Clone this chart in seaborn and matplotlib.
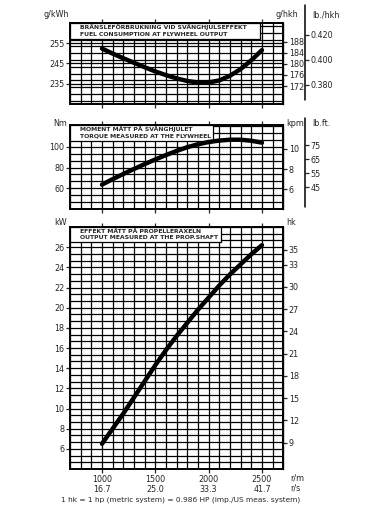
import numpy as np
import pandas as pd
import matplotlib
matplotlib.use("Agg")
import matplotlib.pyplot as plt
from matplotlib.ticker import MultipleLocator, FixedLocator
from matplotlib.patches import Rectangle
from matplotlib.lines import Line2D
import seaborn as sns

# engine speed (r/min)
rpm = [1000, 1100, 1200, 1300, 1400, 1500, 1600, 1700,
       1800, 1900, 2000, 2100, 2200, 2300, 2400, 2500]
# fuel consumption at flywheel output (g/kWh)
fuel = [252.3, 249.8, 247.5, 245.3, 243.1, 241.0, 239.2, 237.6,
        236.3, 235.6, 235.6, 236.6, 238.9, 242.2, 246.5, 251.5]
# torque measured at the flywheel (Nm)
torque = [63.5, 68.8, 73.8, 78.6, 83.3, 87.8, 92.0, 96.0,
          99.6, 102.4, 104.6, 106.0, 106.8, 106.8, 105.8, 104.0]
# output measured at the prop shaft (kW)
power = [6.5, 8.0, 9.5, 11.1, 12.7, 14.3, 15.8, 17.2,
         18.5, 19.8, 21.0, 22.2, 23.3, 24.3, 25.3, 26.2]

x_ticks = [1000, 1500, 2000, 2500]
x_ticklabels = ["1000\n16.7", "1500\n25.0", "2000\n33.3", "2500\n41.7"]

fuel_ticks = [235, 245, 255]
fuel_hkh_ticks = [172, 176, 180, 184, 188]
fuel_lb_ticks = [0.380, 0.400, 0.420]
torque_ticks = [60, 80, 100]
kpm_ticks = [6, 8, 10]
lbft_ticks = [45, 55, 65, 75]
power_ticks = [6, 8, 10, 12, 14, 16, 18, 20, 22, 24, 26]
hk_ticks = [9, 12, 15, 18, 21, 24, 27, 30, 33, 35]

df = pd.DataFrame({"rpm": rpm, "fuel": fuel, "torque": torque, "power": power})

sns.set_style("white")
plt.rcParams["font.family"] = ["DejaVu Sans"]
plt.rcParams["font.size"] = 5.8

fig = plt.figure(figsize=(3.71, 5.15), dpi=100)
W, H = 371.0, 515.0

def make_axes(top_px, bot_px):
    return fig.add_axes([70 / W, 1 - bot_px / H, 213.3 / W, (bot_px - top_px) / H])

ax1 = make_axes(22.7, 104)
ax2 = make_axes(125, 209)
ax3 = make_axes(227, 469)

def style(ax, ylim, ystep, yticks):
    ax.set_xlim(700, 2700)
    ax.set_ylim(*ylim)
    ax.xaxis.set_minor_locator(MultipleLocator(100))
    ax.yaxis.set_minor_locator(MultipleLocator(ystep))
    ax.set_xticks(x_ticks)
    ax.set_yticks(yticks)
    ax.grid(which="both", color="black", lw=0.9)
    ax.set_axisbelow(True)
    ax.tick_params(which="minor", length=0)
    ax.tick_params(which="major", direction="out", length=3, width=0.9,
                   top=True, bottom=True, left=True, right=False, pad=1,
                   labelsize=5.8)
    ax.set_xticklabels([])
    for s in ax.spines.values():
        s.set_linewidth(1.4)
        s.set_color("black")

def title_box(ax, right, bottom, line1, line2):
    ax.add_patch(Rectangle((0, bottom), right, 1 - bottom, transform=ax.transAxes,
                           facecolor="white", edgecolor="black", lw=0.9, zorder=2))
    ax.text(0.045, 1 - (1 - bottom) * 0.28, line1, transform=ax.transAxes,
            fontsize=4.4, fontweight="bold", va="center", ha="left", zorder=3)
    ax.text(0.045, 1 - (1 - bottom) * 0.72, line2, transform=ax.transAxes,
            fontsize=4.4, fontweight="bold", va="center", ha="left", zorder=3)

# --- fuel consumption
style(ax1, (225, 265), 10 / 3, fuel_ticks)
title_box(ax1, 0.89, 0.80, "BRÄNSLEFÖRBRUKNING VID SVÄNGHJULSEFFEKT",
          "FUEL CONSUMPTION AT FLYWHEEL OUTPUT")
sns.lineplot(data=df, x="rpm", y="fuel", ax=ax1, color="black", lw=3.2, zorder=4)
ax1.set_xlabel(""); ax1.set_ylabel("")
s1 = ax1.secondary_yaxis("right", functions=(lambda v: v * 0.7355, lambda v: v / 0.7355))
s1.yaxis.set_major_locator(FixedLocator(fuel_hkh_ticks))
s2 = ax1.secondary_yaxis(1.10, functions=(lambda v: v * 0.7355 / 453.6,
                                          lambda v: v * 453.6 / 0.7355))
s2.yaxis.set_major_locator(FixedLocator(fuel_lb_ticks))
s2.yaxis.set_major_formatter(plt.FormatStrFormatter("%.3f"))

# --- torque
style(ax2, (40, 121), 20 / 3, torque_ticks)
title_box(ax2, 0.67, 0.81, "MOMENT MÄTT PÅ SVÄNGHJULET",
          "TORQUE MEASURED AT THE FLYWHEEL")
sns.lineplot(data=df, x="rpm", y="torque", ax=ax2, color="black", lw=3.2, zorder=4)
ax2.set_xlabel(""); ax2.set_ylabel("")
s3 = ax2.secondary_yaxis("right", functions=(lambda v: v / 9.80665, lambda v: v * 9.80665))
s3.yaxis.set_major_locator(FixedLocator(kpm_ticks))
s4 = ax2.secondary_yaxis(1.10, functions=(lambda v: v / 1.3558, lambda v: v * 1.3558))
s4.yaxis.set_major_locator(FixedLocator(lbft_ticks))

# --- power
style(ax3, (4, 28), 2 / 3, power_ticks)
title_box(ax3, 0.71, 0.94, "EFFEKT MÄTT PÅ PROPELLERAXELN",
          "OUTPUT MEASURED AT THE PROP.SHAFT")
sns.lineplot(data=df, x="rpm", y="power", ax=ax3, color="black", lw=3.2, zorder=4)
ax3.set_xlabel(""); ax3.set_ylabel("")
ax3.set_xticklabels(x_ticklabels)
s5 = ax3.secondary_yaxis("right", functions=(lambda v: v * 1.3596, lambda v: v / 1.3596))
s5.yaxis.set_major_locator(FixedLocator(hk_ticks))

for s in [s1, s2, s3, s4, s5]:
    s.tick_params(direction="out", length=3, width=0.9, pad=1, labelsize=5.8)
    for sp in s.spines.values():
        sp.set_linewidth(1.0)
for s in [s2, s4]:
    s.spines["right"].set_visible(False)

# separate axis lines for lb scales (extend above the panels)
ax1.add_line(Line2D([1.10, 1.10], [0.05, 1.22], transform=ax1.transAxes,
                    color="black", lw=1.1, clip_on=False))
ax2.add_line(Line2D([1.10, 1.10], [0.02, 1.08], transform=ax2.transAxes,
                    color="black", lw=1.1, clip_on=False))

# unit labels
fs = 5.8
fig.text(69 / W, 1 - 19 / H, "g/kWh", ha="right", va="bottom", fontsize=fs)
fig.text(298 / W, 1 - 19 / H, "g/hkh", ha="right", va="bottom", fontsize=fs)
fig.text(312 / W, 1 - 19 / H, "lb./hkh", ha="left", va="bottom", fontsize=fs)
fig.text(67 / W, 1 - 128 / H, "Nm", ha="right", va="bottom", fontsize=fs)
fig.text(286 / W, 1 - 128 / H, "kpm", ha="left", va="bottom", fontsize=fs)
fig.text(312 / W, 1 - 128 / H, "lb.ft.", ha="left", va="bottom", fontsize=fs)
fig.text(67 / W, 1 - 227 / H, "kW", ha="right", va="bottom", fontsize=fs)
fig.text(286 / W, 1 - 227 / H, "hk", ha="left", va="bottom", fontsize=fs)
fig.text(290 / W, 1 - 483 / H, "r/m\nr/s", ha="left", va="center", fontsize=fs,
         linespacing=1.1)
fig.text(181 / W, 1 - 500 / H,
         "1 hk = 1 hp (metric system) = 0.986 HP (imp./US meas. system)",
         ha="center", va="center", fontsize=5.3)

fig.savefig("out.png", dpi=100)
